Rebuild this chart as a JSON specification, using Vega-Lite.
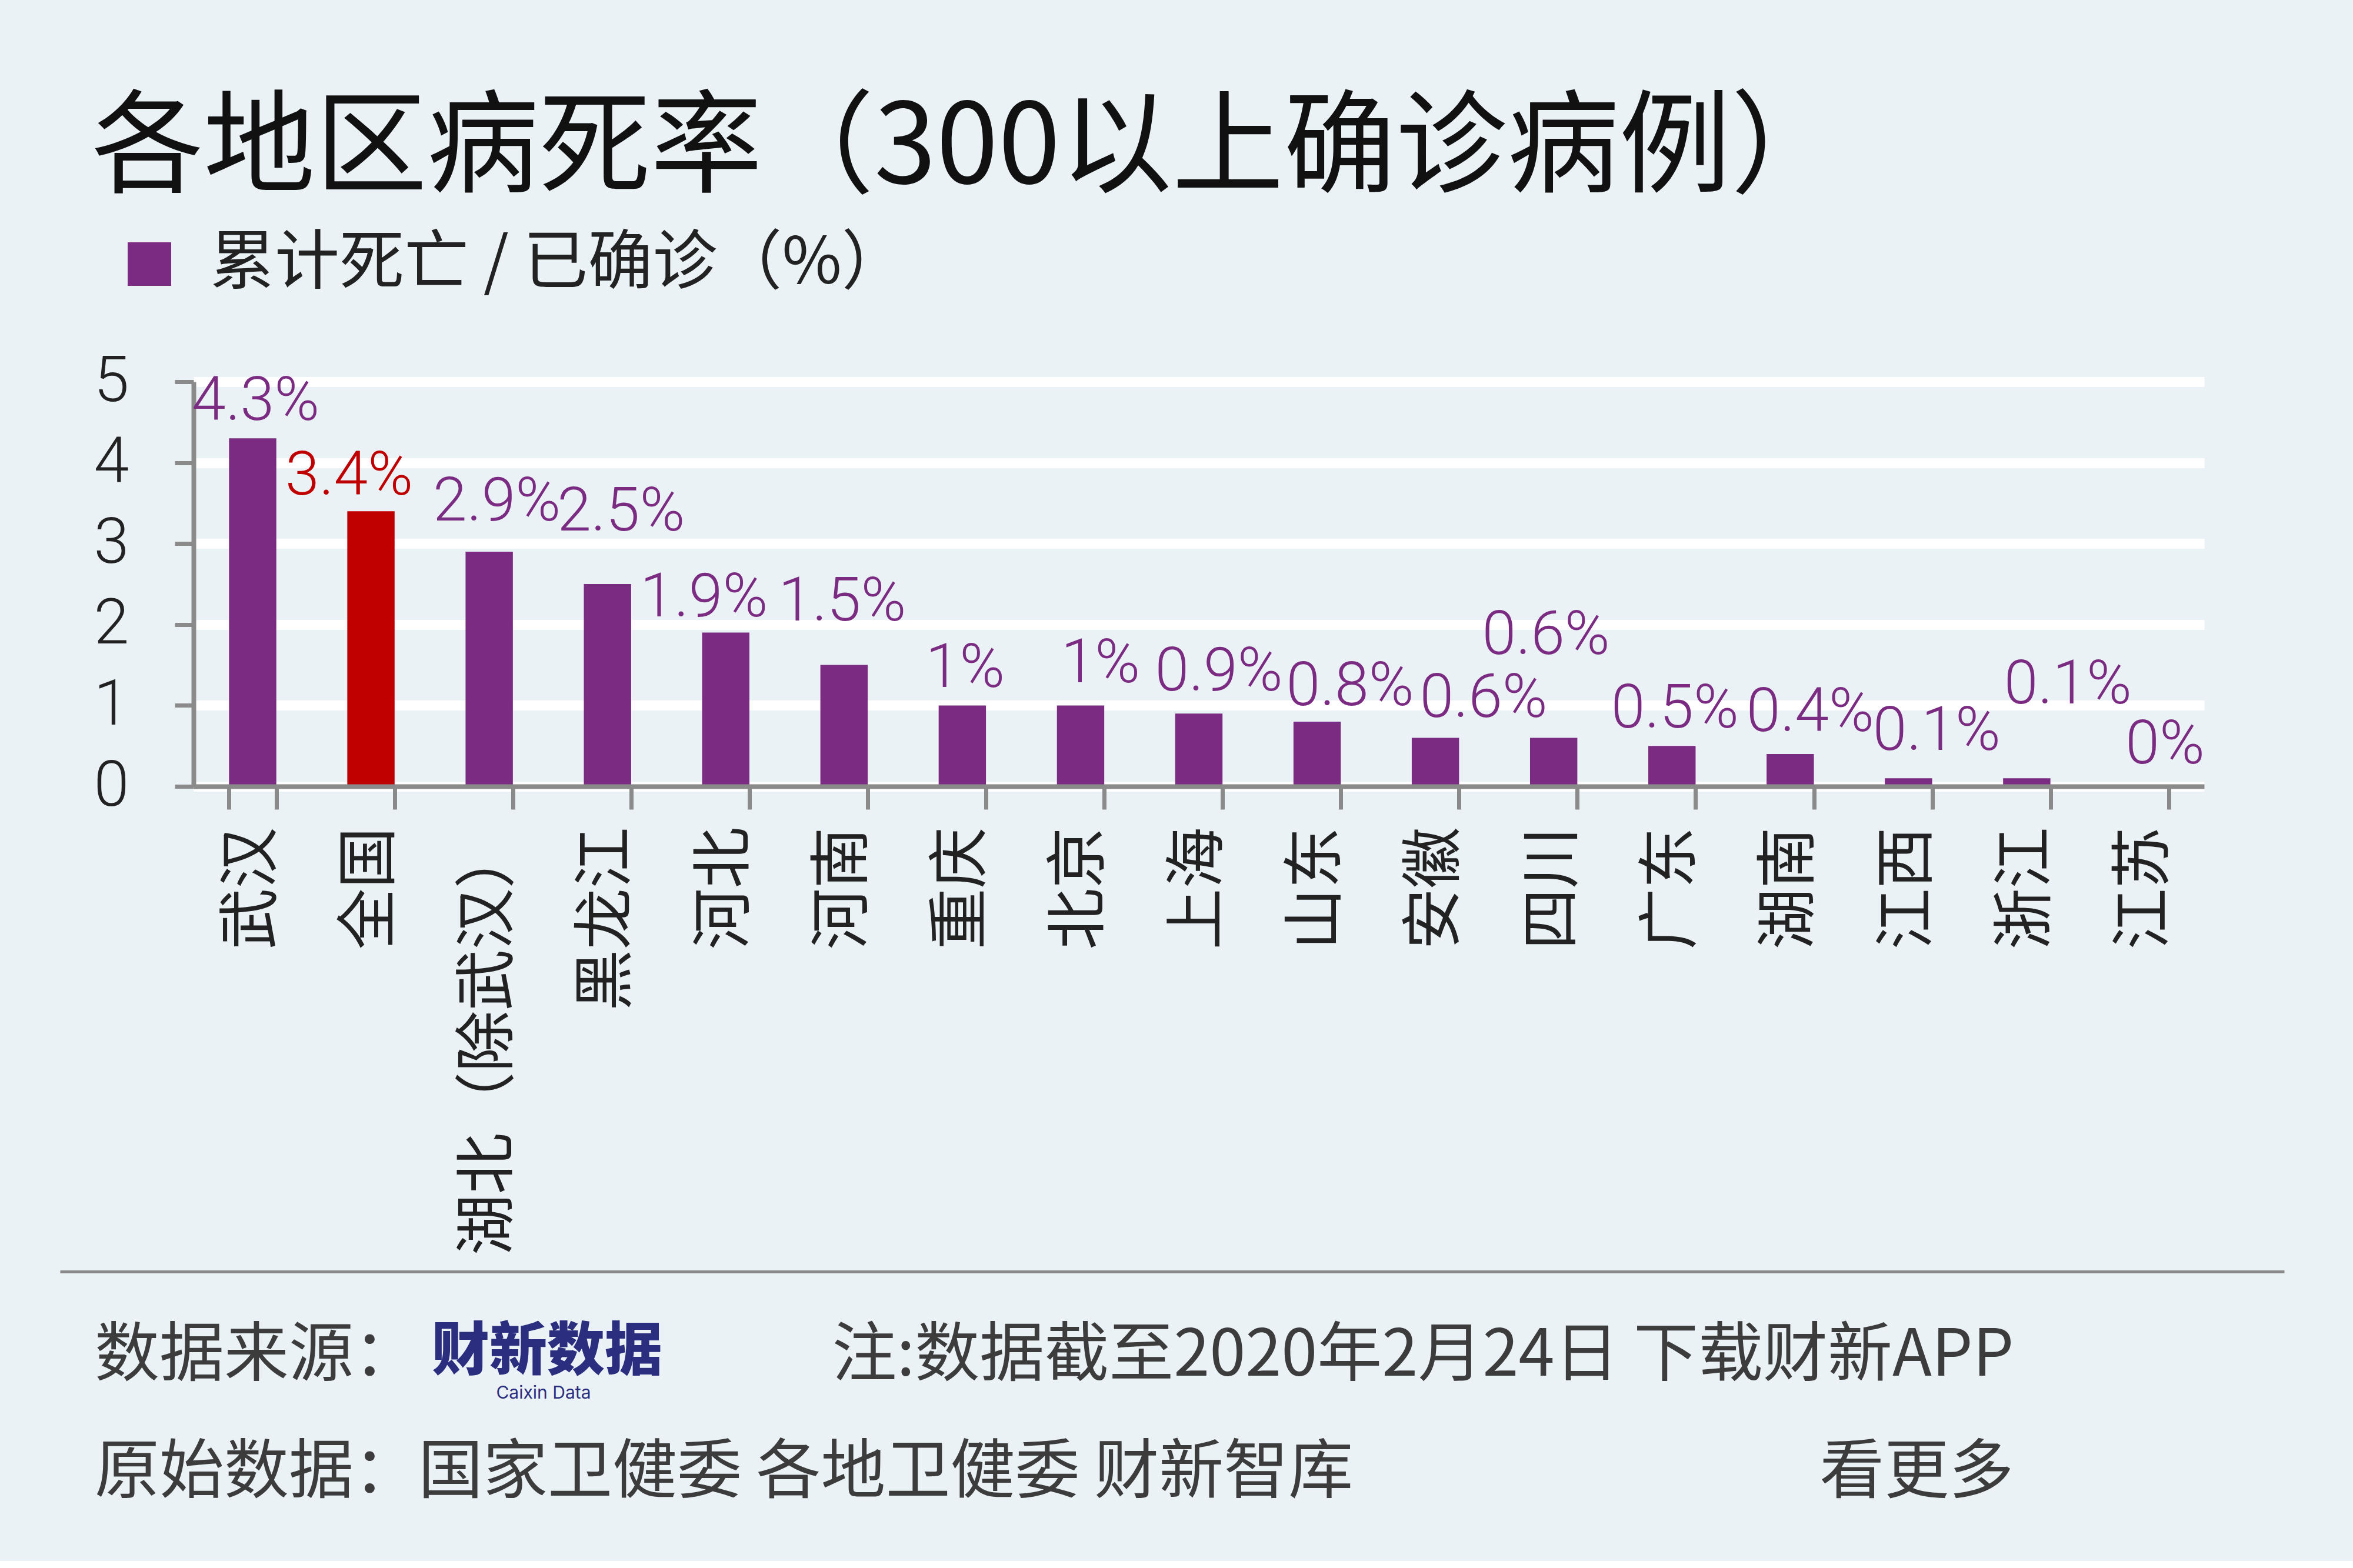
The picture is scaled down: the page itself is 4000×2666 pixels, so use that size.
{
  "$schema": "https://vega.github.io/schema/vega-lite/v6.json",
  "background": "#EAF2F5",
  "padding": {"left": 156, "top": 160, "right": 20, "bottom": 5},
  "title": {
    "text": "各地区病死率（300以上确诊病例）",
    "anchor": "start",
    "frame": "bounds",
    "dx": -3,
    "font": "Noto Sans CJK SC",
    "fontSize": 190,
    "fontWeight": 400,
    "color": "#111111",
    "offset": 42
  },
  "columns": 1,
  "spacing": 27,
  "concat": [
    {
      "width": 3418,
      "height": 688,
      "data": {
        "values": [
          {"region": "武汉", "rate": 4.3},
          {"region": "全国", "rate": 3.4},
          {"region": "湖北（除武汉）", "rate": 2.9},
          {"region": "黑龙江", "rate": 2.5},
          {"region": "河北", "rate": 1.9},
          {"region": "河南", "rate": 1.5},
          {"region": "重庆", "rate": 1},
          {"region": "北京", "rate": 1},
          {"region": "上海", "rate": 0.9},
          {"region": "山东", "rate": 0.8},
          {"region": "安徽", "rate": 0.6},
          {"region": "四川", "rate": 0.6},
          {"region": "广东", "rate": 0.5},
          {"region": "湖南", "rate": 0.4},
          {"region": "江西", "rate": 0.1},
          {"region": "浙江", "rate": 0.1},
          {"region": "江苏", "rate": 0}
        ]
      },
      "transform": [{"calculate": "datum.rate + '%'", "as": "label"}],
      "encoding": {
        "x": {
          "field": "region",
          "type": "nominal",
          "sort": null,
          "scale": {
            "domain": ["武汉", "全国", "湖北（除武汉）", "黑龙江", "河北", "河南", "重庆", "北京", "上海", "山东", "安徽", "四川", "广东", "湖南", "江西", "浙江", "江苏"],
            "paddingInner": 0.6,
            "paddingOuter": 0.3
          },
          "axis": {
            "title": null,
            "tickBand": "extent",
            "domainColor": "#8A8A8A",
            "domainWidth": 8,
            "tickColor": "#8A8A8A",
            "tickWidth": 7,
            "tickSize": 39,
            "labelAngle": 270,
            "labelAlign": "right",
            "labelBaseline": "middle",
            "labelPadding": 30,
            "labelFont": "Noto Sans CJK SC",
            "labelFontSize": 104,
            "labelColor": "#222222",
            "labelOverlap": false,
            "labelLimit": 0,
            "zindex": 1
          }
        },
        "y": {
          "field": "rate",
          "type": "quantitative",
          "scale": {"domain": [0, 5], "nice": false},
          "axis": {
            "title": null,
            "values": [0, 1, 2, 3, 4, 5],
            "grid": true,
            "gridColor": "#FFFFFF",
            "gridWidth": 17,
            "domainColor": "#8A8A8A",
            "domainWidth": 8,
            "tickColor": "#8A8A8A",
            "tickWidth": 7,
            "tickSize": 32,
            "labelPadding": 78,
            "labelFont": "Roboto",
            "labelFontWeight": 300,
            "labelFontSize": 108,
            "labelColor": "#222222"
          }
        }
      },
      "layer": [
        {
          "mark": {"type": "bar"},
          "encoding": {
            "color": {
              "datum": "累计死亡 / 已确诊（%）",
              "scale": {"range": ["#7B2C82"]},
              "condition": {"test": "datum.region === '全国'", "value": "#C00000"},
              "legend": {
                "title": null,
                "orient": "none",
                "legendX": -130,
                "legendY": -255,
                "padding": 0,
                "symbolType": "square",
                "symbolSize": 5476,
                "symbolStrokeWidth": 0,
                "labelOffset": 48,
                "labelFont": "Noto Sans CJK SC",
                "labelFontSize": 110,
                "labelColor": "#222222",
                "labelLimit": 0
              }
            }
          }
        },
        {
          "transform": [{"filter": {"field": "region", "oneOf": ["武汉", "重庆", "广东"]}}],
          "mark": {"type": "text", "dx": 5, "dy": -62, "align": "center", "baseline": "middle", "font": "Roboto", "fontWeight": 300, "fontSize": 104, "fill": "#7B2C82"},
          "encoding": {"text": {"field": "label"}}
        },
        {
          "transform": [{"filter": {"field": "region", "oneOf": ["全国", "河北"]}}],
          "mark": {"type": "text", "dx": -37, "dy": -59, "align": "center", "baseline": "middle", "font": "Roboto", "fontWeight": 300, "fontSize": 104},
          "encoding": {
            "text": {"field": "label"},
            "fill": {"condition": {"test": "datum.region === '全国'", "value": "#C00000"}, "value": "#7B2C82"}
          }
        },
        {
          "transform": [{"filter": {"field": "region", "oneOf": ["北京", "上海", "湖南", "江苏"]}}],
          "mark": {"type": "text", "dx": 34, "dy": -70, "align": "center", "baseline": "middle", "font": "Roboto", "fontWeight": 300, "fontSize": 104, "fill": "#7B2C82"},
          "encoding": {"text": {"field": "label"}}
        },
        {
          "transform": [{"filter": {"field": "region", "equal": "山东"}}],
          "mark": {"type": "text", "dx": 56, "dy": -59, "align": "center", "baseline": "middle", "font": "Roboto", "fontWeight": 300, "fontSize": 104, "fill": "#7B2C82"},
          "encoding": {"text": {"field": "label"}}
        },
        {
          "transform": [{"filter": {"field": "region", "equal": "安徽"}}],
          "mark": {"type": "text", "dx": 82, "dy": -66, "align": "center", "baseline": "middle", "font": "Roboto", "fontWeight": 300, "fontSize": 104, "fill": "#7B2C82"},
          "encoding": {"text": {"field": "label"}}
        },
        {
          "transform": [{"filter": {"field": "region", "equal": "江西"}}],
          "mark": {"type": "text", "dx": 48, "dy": -79, "align": "center", "baseline": "middle", "font": "Roboto", "fontWeight": 300, "fontSize": 104, "fill": "#7B2C82"},
          "encoding": {"text": {"field": "label"}}
        },
        {
          "transform": [{"filter": {"field": "region", "equal": "湖北（除武汉）"}}],
          "mark": {"type": "text", "dx": 13, "dy": -84, "align": "center", "baseline": "middle", "font": "Roboto", "fontWeight": 300, "fontSize": 104, "fill": "#7B2C82"},
          "encoding": {"text": {"field": "label"}}
        },
        {
          "transform": [{"filter": {"field": "region", "equal": "黑龙江"}}],
          "mark": {"type": "text", "dx": 23, "dy": -122, "align": "center", "baseline": "middle", "font": "Roboto", "fontWeight": 300, "fontSize": 104, "fill": "#7B2C82"},
          "encoding": {"text": {"field": "label"}}
        },
        {
          "transform": [{"filter": {"field": "region", "equal": "河南"}}],
          "mark": {"type": "text", "dx": -3, "dy": -107, "align": "center", "baseline": "middle", "font": "Roboto", "fontWeight": 300, "fontSize": 104, "fill": "#7B2C82"},
          "encoding": {"text": {"field": "label"}}
        },
        {
          "transform": [{"filter": {"field": "region", "equal": "四川"}}],
          "mark": {"type": "text", "dx": -13, "dy": -173, "align": "center", "baseline": "middle", "font": "Roboto", "fontWeight": 300, "fontSize": 104, "fill": "#7B2C82"},
          "encoding": {"text": {"field": "label"}}
        },
        {
          "transform": [{"filter": {"field": "region", "equal": "浙江"}}],
          "mark": {"type": "text", "dx": 70, "dy": -158, "align": "center", "baseline": "middle", "font": "Roboto", "fontWeight": 300, "fontSize": 104, "fill": "#7B2C82"},
          "encoding": {"text": {"field": "label"}}
        }
      ]
    },
    {
      "width": 3722,
      "height": 487,
      "data": {
        "values": [
          {"side": "left", "line": "1", "part": "source", "text": "数据来源："},
          {"side": "left", "line": "1", "part": "logo", "text": "财新数据"},
          {"side": "left", "line": "1", "part": "logo-en", "text": "Caixin Data"},
          {"side": "right", "line": "1", "part": "note", "text": "注:数据截至2020年2月24日 下载财新APP"},
          {"side": "left", "line": "2", "part": "origin", "text": "原始数据：国家卫健委 各地卫健委 财新智库"},
          {"side": "right", "line": "2", "part": "more", "text": "看更多"}
        ]
      },
      "encoding": {
        "x": {
          "field": "side",
          "type": "nominal",
          "scale": {"type": "point", "domain": ["left", "right"], "range": [-227, 3554], "padding": 0.0795, "align": 0.1137},
          "axis": {"orient": "top", "title": null, "labels": false, "ticks": false, "grid": false, "domain": true, "domainColor": "#8A8A8A", "domainWidth": 5}
        },
        "y": {
          "field": "line",
          "type": "ordinal",
          "scale": {"type": "point", "domain": ["1", "2"], "padding": 0.7236, "align": 0.5},
          "axis": null
        },
        "text": {"field": "text"}
      },
      "layer": [
        {
          "transform": [{"filter": {"field": "part", "oneOf": ["source", "origin"]}}],
          "mark": {"type": "text", "align": "left", "baseline": "middle", "font": "Noto Sans CJK SC", "fontWeight": 400, "fontSize": 110, "fill": "#3C3C3C"}
        },
        {
          "transform": [{"filter": {"field": "side", "equal": "right"}}],
          "mark": {"type": "text", "align": "right", "baseline": "middle", "font": "Noto Sans CJK SC", "fontWeight": 400, "fontSize": 110, "fill": "#3C3C3C"}
        },
        {
          "transform": [{"filter": {"field": "part", "equal": "logo"}}],
          "mark": {"type": "text", "align": "center", "baseline": "middle", "dx": 769, "dy": -6, "font": "Noto Sans CJK SC", "fontWeight": 900, "fontSize": 98, "fill": "#2B2E7F"}
        },
        {
          "transform": [{"filter": {"field": "part", "equal": "logo-en"}}],
          "mark": {"type": "text", "align": "center", "baseline": "middle", "dx": 763, "dy": 63, "font": "Inter", "fontSize": 30, "fill": "#2B2E7F"}
        }
      ]
    }
  ],
  "config": {
    "view": {"stroke": null},
    "font": "Noto Sans CJK SC"
  }
}
